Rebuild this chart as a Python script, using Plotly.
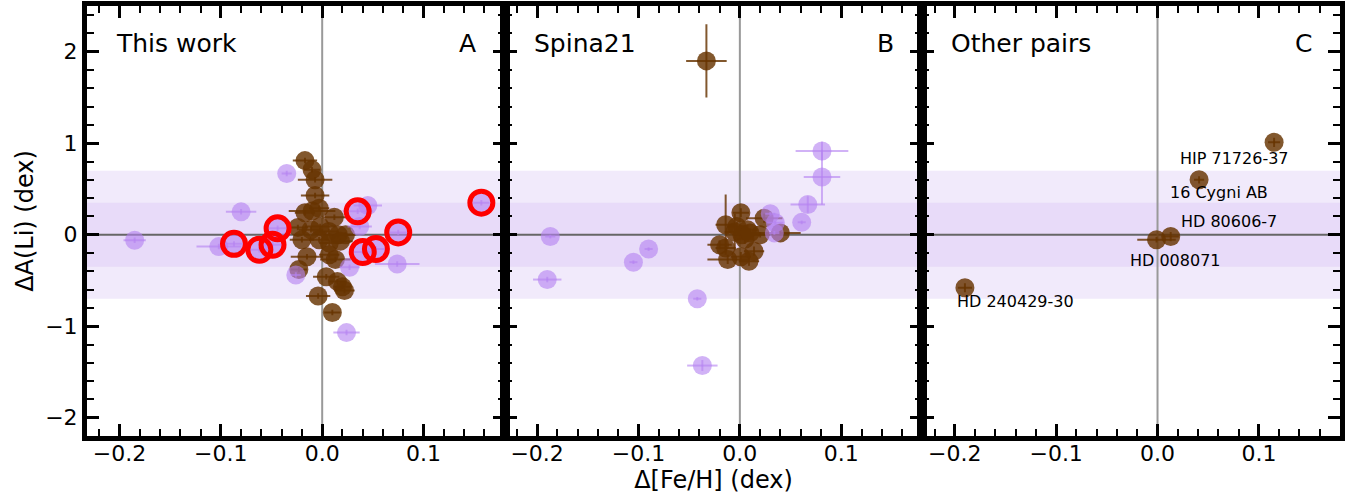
import plotly.graph_objects as go

# ---------------- data ----------------
# Panel A: "This work"
a_brown_x = [-0.017, -0.010, -0.007, -0.007, -0.003, -0.010, -0.017, 0.012, -0.024,
             -0.011, -0.002, 0.0066, 0.016, 0.023, -0.020, -0.003, 0.007, 0.018,
             -0.015, -0.023, 0.007, 0.013, 0.004, 0.015, 0.020, 0.022, -0.004, 0.010]
a_brown_y = [0.81, 0.71, 0.60, 0.43, 0.29, 0.26, 0.24, 0.19, 0.08,
             0.055, 0.09, 0.036, 0.0, 0.0, -0.055, -0.055, -0.09, -0.07,
             -0.24, -0.38, -0.22, -0.27, -0.46, -0.51, -0.57, -0.61, -0.67, -0.85]
a_brown_xerr = [0.012, 0.008, 0.017, 0.014, 0.010, 0.023, 0.010, 0.012, 0.010,
                0.012, 0.015, 0.010, 0.012, 0.010, 0.012, 0.010, 0.010, 0.012,
                0.016, 0.008, 0.010, 0.015, 0.013, 0.008, 0.008, 0.010, 0.012, 0.008]
a_brown_yerr = [0.03] * len(a_brown_x)

a_purple_x = [-0.185, -0.080, -0.035, -0.102, -0.087, -0.062, -0.044, -0.049, -0.026,
              0.035, 0.045, 0.037, 0.040, 0.053, 0.075, 0.157, 0.027, 0.074, 0.024]
a_purple_y = [-0.06, 0.25, 0.67, -0.13, -0.10, -0.165, 0.07, -0.11, -0.44,
              0.256, 0.32, 0.09, -0.19, -0.157, 0.025, 0.35, -0.355, -0.32, -1.07]
a_purple_xerr = [0.011, 0.015, 0.005, 0.022, 0.010, 0.010, 0.010, 0.010, 0.005,
                 0.015, 0.014, 0.012, 0.010, 0.010, 0.012, 0.008, 0.010, 0.022, 0.013]
a_purple_yerr = [0.03] * len(a_purple_x)
a_circled = [False, False, False, False, True, True, True, True, False,
             True, False, False, True, True, True, True, False, False, False]

# Panel B: "Spina21"
b_brown_x = [-0.033, 0.001, -0.014, 0.024, 0.040, 0.020, 0.0075, -0.005, 0.002,
             0.005, -0.020, -0.014, -0.012, 0.001, 0.009, 0.014, -0.003, 0.010]
b_brown_y = [1.90, 0.24, 0.11, 0.18, 0.02, 0.00, 0.055, 0.03, 0.00,
             -0.05, -0.11, -0.146, -0.27, -0.24, -0.29, -0.18, 0.09, 0.02]
b_brown_xerr = [0.020, 0.008, 0.010, 0.018, 0.020, 0.010, 0.010, 0.010, 0.008,
                0.008, 0.012, 0.010, 0.020, 0.010, 0.010, 0.010, 0.010, 0.010]
b_brown_yerr = [0.40, 0.05, 0.33, 0.05, 0.03, 0.03, 0.05, 0.20, 0.05,
                0.05, 0.05, 0.05, 0.05, 0.05, 0.05, 0.05, 0.05, 0.05]

b_purple_x = [-0.187, -0.190, -0.105, -0.090, -0.042, -0.037, 0.030, 0.035, 0.034,
              0.061, 0.067, 0.081, 0.081]
b_purple_y = [-0.02, -0.49, -0.30, -0.157, -0.70, -1.43, 0.23, 0.13, 0.02,
              0.135, 0.33, 0.63, 0.915]
b_purple_xerr = [0.005, 0.014, 0.004, 0.004, 0.004, 0.015, 0.005, 0.008, 0.005,
                 0.004, 0.017, 0.018, 0.026]
b_purple_yerr = [0.02, 0.03, 0.02, 0.02, 0.02, 0.06, 0.02, 0.02, 0.02,
                 0.02, 0.09, 0.30, 0.10]

# Panel C: "Other pairs"
c_names = ["HIP 71726-37", "16 Cygni AB", "HD 80606-7", "HD 008071", "HD 240429-30"]
c_x = [0.115, 0.041, 0.013, -0.001, -0.190]
c_y = [1.01, 0.60, -0.02, -0.055, -0.58]
c_xerr = [0.006, 0.005, 0.008, 0.019, 0.007]
c_yerr = [0.05, 0.04, 0.05, 0.03, 0.05]
c_label_shift = [(-96, -16), (-31, -13), (8, 15), (-29, -21), (-10, -14)]

panel_titles = ["This work", "Spina21", "Other pairs"]
panel_letters = ["A", "B", "C"]

x_ticks = [-0.2, -0.1, 0.0, 0.1]
x_ticktext = ["\u22120.2", "\u22120.1", "0.0", "0.1"]
y_ticks = [-2, -1, 0, 1, 2]
y_ticktext = ["\u22122", "\u22121", "0", "1", "2"]

# ---------------- style ----------------
BROWN = "rgba(102,51,0,0.82)"
PURPLE = "rgba(180,130,240,0.62)"
FONT = "DejaVu Sans"
MS = 19

fig = go.Figure()


def add_pts(x, y, xe, ye, color, ax):
    fig.add_trace(go.Scatter(
        x=x, y=y, mode="markers",
        xaxis="x" + ax, yaxis="y" + ax,
        marker=dict(size=MS, color=color, line=dict(width=0)),
        error_x=dict(type="data", array=xe, color=color, thickness=2, width=0),
        error_y=dict(type="data", array=ye, color=color, thickness=2, width=0),
        showlegend=False, hoverinfo="skip"))


# Panel A
add_pts(a_brown_x, a_brown_y, a_brown_xerr, a_brown_yerr, BROWN, "")
add_pts(a_purple_x, a_purple_y, a_purple_xerr, a_purple_yerr, PURPLE, "")
fig.add_trace(go.Scatter(
    x=[xv for xv, f in zip(a_purple_x, a_circled) if f],
    y=[yv for yv, f in zip(a_purple_y, a_circled) if f],
    mode="markers", xaxis="x", yaxis="y",
    marker=dict(symbol="circle-open", size=23, color="red", line=dict(width=5, color="red")),
    showlegend=False, hoverinfo="skip"))
# Panel B
add_pts(b_brown_x, b_brown_y, b_brown_xerr, b_brown_yerr, BROWN, "2")
add_pts(b_purple_x, b_purple_y, b_purple_xerr, b_purple_yerr, PURPLE, "2")
# Panel C
add_pts(c_x, c_y, c_xerr, c_yerr, BROWN, "3")

# ---------------- axes ----------------
domains = [[0.0, 1 / 3], [1 / 3, 2 / 3], [2 / 3, 1.0]]
for i in range(3):
    sfx = "" if i == 0 else str(i + 1)
    xa = dict(
        domain=domains[i], range=[-0.232, 0.18], anchor="y" + sfx,
        tickvals=x_ticks, ticktext=x_ticktext, automargin=False,
        ticks="inside", ticklen=12, tickwidth=3, tickcolor="black",
        ticklabelstandoff=-6,
        showline=True, linewidth=5, linecolor="black", mirror="allticks",
        minor=dict(dtick=0.02, tick0=0, ticks="inside", ticklen=7, tickwidth=2, tickcolor="black"),
        showgrid=False, zeroline=False,
        tickfont=dict(family=FONT, size=22, color="black"),
    )
    ya = dict(
        domain=[0, 1], range=[-2.2, 2.5], anchor="x" + sfx, automargin=False,
        tickvals=y_ticks, ticktext=y_ticktext,
        ticks="inside", ticklen=12, tickwidth=3, tickcolor="black",
        showline=True, linewidth=5, linecolor="black", mirror="allticks",
        minor=dict(dtick=0.2, tick0=0, ticks="inside", ticklen=7, tickwidth=2, tickcolor="black"),
        showgrid=False, zeroline=False, showticklabels=(i == 0),
        tickfont=dict(family=FONT, size=22, color="black"),
    )
    if i == 1:
        xa["title"] = dict(text="\u0394[Fe/H] (dex)", font=dict(family=FONT, size=24, color="black"), standoff=6)
    if i == 0:
        ya["title"] = dict(text="\u0394A(Li) (dex)", font=dict(family=FONT, size=24, color="black"), standoff=6)
    fig.update_layout(**{"xaxis" + sfx: xa, "yaxis" + sfx: ya})

    xr = "x" + sfx + " domain" if sfx else "x domain"
    yr = "y" + sfx + " domain" if sfx else "y domain"
    xd = "x" + sfx
    yd = "y" + sfx
    # shaded bands
    fig.add_shape(type="rect", xref=xr, yref=yd, x0=0, x1=1, y0=-0.7, y1=0.7,
                  fillcolor="rgba(200,170,240,0.25)", line=dict(width=0), layer="below")
    fig.add_shape(type="rect", xref=xr, yref=yd, x0=0, x1=1, y0=-0.35, y1=0.35,
                  fillcolor="rgba(200,170,240,0.22)", line=dict(width=0), layer="below")
    # reference lines
    fig.add_shape(type="line", xref=xr, yref=yd, x0=0, x1=1, y0=0, y1=0,
                  line=dict(color="#666666", width=2), layer="below")
    fig.add_shape(type="line", xref=xd, yref=yr, x0=0, x1=0, y0=0, y1=1,
                  line=dict(color="#999999", width=2), layer="below")
    # panel labels
    fig.add_annotation(text=panel_titles[i], xref=xr, yref=yr, x=0.065, y=0.912,
                       xanchor="left", yanchor="middle", showarrow=False,
                       font=dict(family=FONT, size=25, color="black"))
    fig.add_annotation(text=panel_letters[i], xref=xr, yref=yr, x=0.937, y=0.912,
                       xanchor="right", yanchor="middle", showarrow=False,
                       font=dict(family=FONT, size=25, color="black"))

# labels for other pairs
for name, xv, yv, (dx, dy) in zip(c_names, c_x, c_y, c_label_shift):
    fig.add_annotation(text=name, x=xv, y=yv, xref="x3", yref="y3",
                       xanchor="left", yanchor="middle", showarrow=False,
                       xshift=dx, yshift=dy,
                       font=dict(family=FONT, size=16, color="black"))

fig.update_layout(
    width=1348, height=497,
    margin=dict(l=87, r=8, t=6, b=61),
    paper_bgcolor="white", plot_bgcolor="white",
    font=dict(family=FONT, color="black"),
)

fig.write_html("out.html",
               config={"displayModeBar": False, "staticPlot": True},
               post_script="document.body.style.margin='0';document.body.style.overflow='hidden';")
